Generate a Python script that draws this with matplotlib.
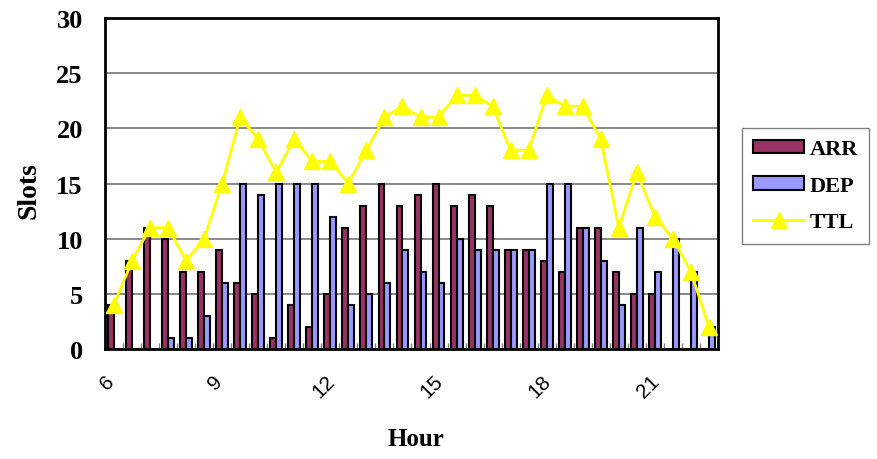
import matplotlib
matplotlib.use("Agg")
import matplotlib.pyplot as plt
import matplotlib.transforms as mtransforms
import numpy as np

# half-hour slots from 6:00 to 22:30
hours = [6 + 0.5 * i for i in range(34)]
arr = [4, 8, 11, 10, 7, 7, 9, 6, 5, 1, 4, 2, 5, 11, 13, 15, 13, 14, 15, 13, 14, 13,
       9, 9, 8, 7, 11, 11, 7, 5, 5, 0, 0, 0]
dep = [0, 0, 0, 1, 1, 3, 6, 15, 14, 15, 15, 15, 12, 4, 5, 6, 9, 7, 6, 10, 9, 9,
       9, 9, 15, 15, 11, 8, 4, 11, 7, 10, 7, 2]
ttl = [4, 8, 11, 11, 8, 10, 15, 21, 19, 16, 19, 17, 17, 15, 18, 21, 22, 21, 21, 23, 23, 22,
       18, 18, 23, 22, 22, 19, 11, 16, 12, 10, 7, 2]
tick_labels = ['6', '9', '12', '15', '18', '21']

serif = 'Liberation Serif'

fig = plt.figure(figsize=(8.78, 4.6), dpi=100)
ax = fig.add_axes([105/878, 1-350/460, 613/878, 331/460])

x = np.arange(len(hours))
w = 0.33
b1 = ax.bar(x - w/2, arr, w, color='#993366', edgecolor='black', linewidth=1.5, label='ARR', zorder=3)
b2 = ax.bar(x + w/2, dep, w, color='#9999FF', edgecolor='black', linewidth=1.5, label='DEP', zorder=3)
l1, = ax.plot(x, ttl, color='#FFFF00', linewidth=2, marker='^', markersize=11,
              markerfacecolor='#FFFF00', markeredgecolor='#FFFF00', label='TTL', zorder=4)

ax.set_xlim(-0.5, len(hours) - 0.5)
ax.set_ylim(0, 30)
ax.set_yticks(range(0, 31, 5))
ax.yaxis.grid(True, color='#808080', linewidth=1.3, zorder=0)
ax.tick_params(axis='y', length=0, pad=16)
for lab in ax.get_yticklabels():
    lab.set_fontfamily(serif)
    lab.set_fontweight('bold')
    lab.set_fontsize(19)

ax.set_xticks(x[::6])
ax.set_xticklabels(tick_labels, rotation=45, ha='center', va='top',
                   fontsize=15, family='Liberation Sans')
ax.tick_params(axis='x', which='major', length=0, pad=16)
shift = mtransforms.ScaledTranslation(-7/100, 0, fig.dpi_scale_trans)
for lab in ax.get_xticklabels():
    lab.set_transform(lab.get_transform() + shift)
ax.set_xticks(np.arange(-0.5, len(hours), 1), minor=True)
ax.tick_params(axis='x', which='minor', direction='in', length=4, color='#808080', width=1)

for s in ax.spines.values():
    s.set_linewidth(2)
    s.set_color('black')

ax.set_ylabel('Slots', fontsize=20, fontweight='bold', family=serif)
ax.set_xlabel('Hour', fontsize=18, fontweight='bold', family=serif)
ax.yaxis.set_label_coords(-0.103, 0.483)
ax.xaxis.set_label_coords(0.507, -0.236)

leg = ax.legend([b1, b2, l1], ['ARR', 'DEP', 'TTL'], loc='upper left',
                bbox_to_anchor=(742/878, 1-129/460),
                bbox_transform=fig.transFigure, borderaxespad=0,
                fancybox=False, framealpha=1,
                prop={'family': serif, 'weight': 'bold', 'size': 16},
                handlelength=2.3, handleheight=0.55, handletextpad=0.25,
                labelspacing=0.75, borderpad=0.5)
leg.get_frame().set_edgecolor('#808080')
leg.get_frame().set_linewidth(1)

fig.savefig('out.png', dpi=100)
